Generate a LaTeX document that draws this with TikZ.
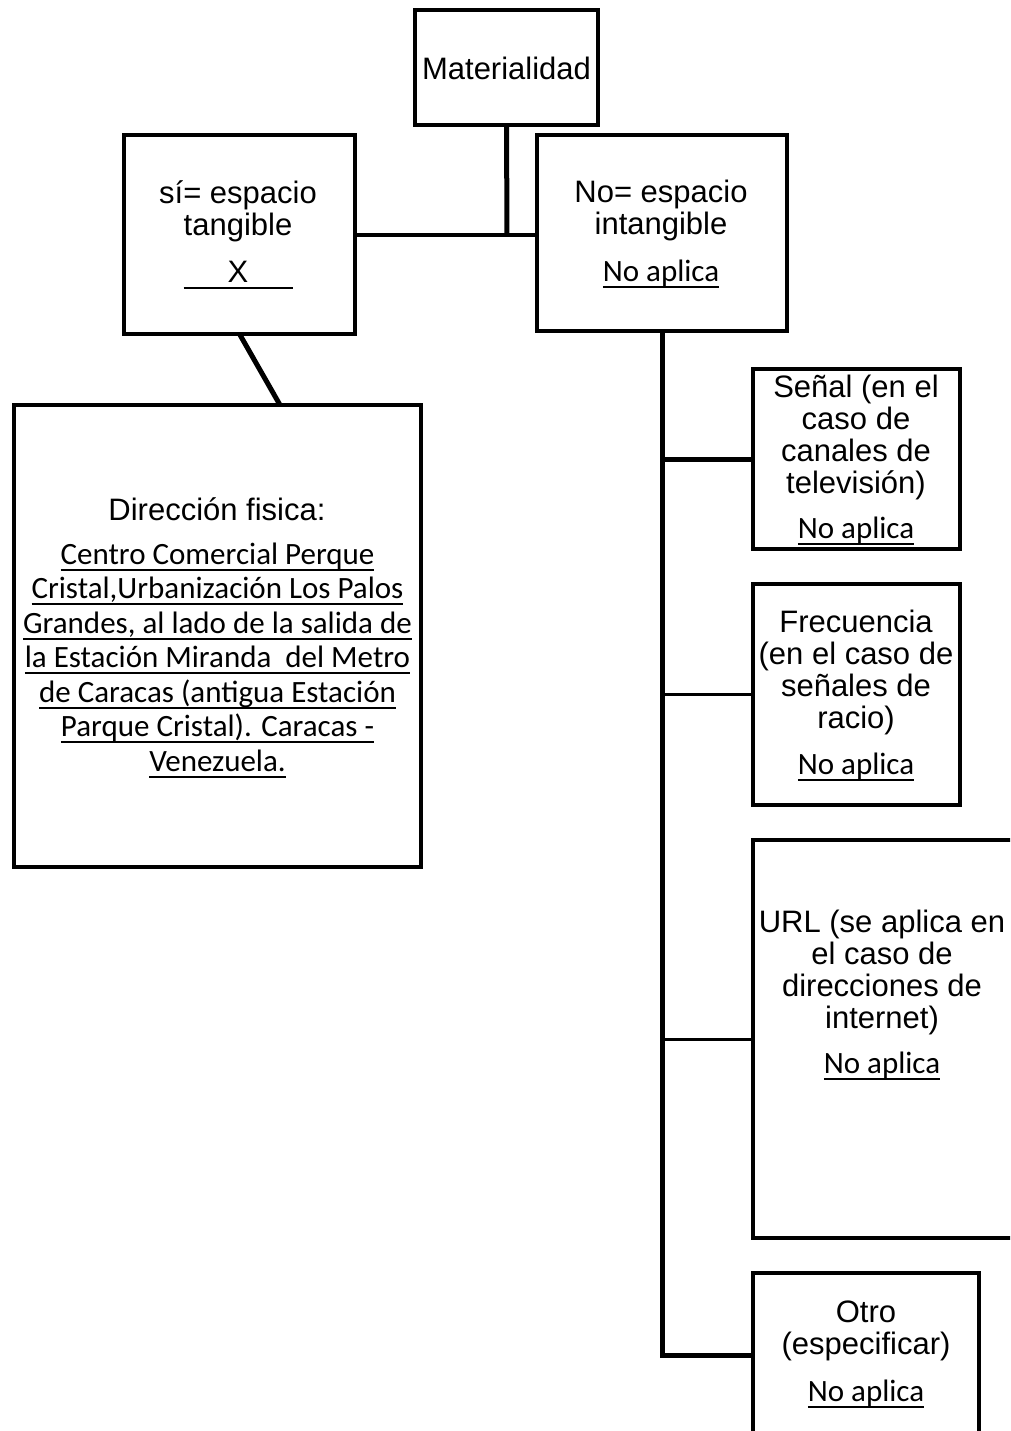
\documentclass[tikz,border=0pt]{standalone}
\usepackage{fontspec}
\newfontfamily\arialf{Liberation Sans}
\newfontfamily\calf{Carlito}
\newcommand\myul[1]{\leavevmode\setbox0\hbox{#1}\rlap{\vrule width\wd0 height -4.5pt depth 6.5pt}\box0}
\begin{document}
\begin{tikzpicture}[x=1pt,y=-1pt,
  box/.style={draw, line width=4pt, inner sep=0pt, outer sep=0pt},
  conn/.style={line width=5pt},
  thinconn/.style={line width=3pt},
  lbl/.style={align=center, inner sep=0pt, font=\arialf\fontsize{31}{32}\selectfont},
  addr/.style={align=center, inner sep=0pt, font=\calf\fontsize{31}{34.5}\selectfont}]
\useasboundingbox (0,0) rectangle (1010,1431);
\clip (0,0) rectangle (1010,1431);
% boxes
\node[box, minimum width=183pt, minimum height=115pt] (mat) at (506.5,67.5) {};
\node[box, minimum width=231pt, minimum height=199pt] (si) at (239.5,234.5) {};
\node[box, minimum width=250pt, minimum height=196pt] (no) at (662,233) {};
\node[box, minimum width=407pt, minimum height=462pt] (dir) at (217.5,636) {};
\node[box, minimum width=207pt, minimum height=180pt] (sen) at (856.5,459) {};
\node[box, minimum width=207pt, minimum height=221pt] (fre) at (856.5,694.5) {};
\node[box, minimum width=297pt, minimum height=398pt] (url) at (901.5,1039) {};
\node[box, minimum width=226pt, minimum height=197pt] (otro) at (866,1371.5) {};
% texts
\node[lbl] (matT) at (506.5,68) {Materialidad};
\node[lbl] (siT) at (238,235) {sí= espacio\\tangible\\[15pt]\myul{\makebox[109pt]{X}}};
\node[lbl] (noT) at (661,234) {No= espacio\\intangible\\[15pt]{\calf\myul{No aplica}}};
\node[lbl] (dirT) at (217,509) {Dirección fisica:};
\node[addr] (dirA) at (217.5,660) {\myul{Centro Comercial Perque}\\\myul{Cristal,Urbanización Los Palos}\\\myul{Grandes, al lado de la salida de}\\\myul{la Estación Miranda\ \ del Metro}\\\myul{de Caracas (antigua Estación}\\\myul{Parque Cristal). Caracas -}\\\myul{Venezuela.}};
\node[lbl] (senT) at (856,460) {Señal (en el\\caso de\\canales de\\televisión)\\[13pt]{\calf\myul{No aplica}}};
\node[lbl] (freT) at (856,696) {Frecuencia\\(en el caso de\\señales de\\racio)\\[14pt]{\calf\myul{No aplica}}};
\node[lbl] (urlT) at (882,995) {URL (se aplica en\\el caso de\\direcciones de\\internet)\\[13pt]{\calf\myul{No aplica}}};
\node[lbl] (otroT) at (866,1354) {Otro\\(especificar)\\[15pt]{\calf\myul{No aplica}}};
% connectors
\coordinate (j) at (507,235);
\coordinate (ob) at (751,1355);
\draw[conn] (mat.south) -- (j);
\draw[line width=4pt] (si.east |- j) -- (no.west |- j);
\draw[conn] (si.south) -- ([xshift=62.5pt]dir.north);
\draw[conn] (no.south) -- (no.south |- ob) -- (ob);
\draw[conn] (no.south |- sen.west) -- (sen.west);
\draw[thinconn] (no.south |- fre.west) -- (fre.west);
\draw[thinconn] (no.south |- url.west) -- (url.west);
\end{tikzpicture}
\end{document}
